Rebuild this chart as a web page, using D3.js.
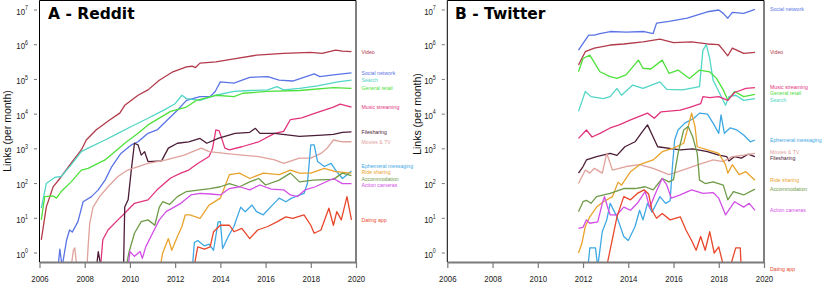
<!DOCTYPE html>
<html>
<head>
<meta charset="utf-8">
<script src="https://cdn.jsdelivr.net/npm/d3@7/dist/d3.min.js"></script>
<style>
  body { margin: 0; background: #fff; }
  svg { display: block; }
</style>
</head>
<body>
<div id="container"></div>
<script>
// tick values
var yearTicks = [2006, 2008, 2010, 2012, 2014, 2016, 2018, 2020];
var powerTicks = [0, 1, 2, 3, 4, 5, 6, 7];

var categories = ['Video', 'Social network', 'Search', 'General retail', 'Music streaming',
    'Filesharing', 'Movies & TV', 'Ephemeral messaging', 'Ride sharing',
    'Accommodation', 'Action cameras', 'Dating app'];

// ---- Reddit: [year, links per month] ----
var redditVideo = [[2006.08, 2.4], [2006.3, 21], [2006.6, 80], [2006.9, 140], [2007.4, 390], [2007.85, 930],
    [2008.07, 1800], [2008.5, 3500], [2009.1, 6800], [2009.55, 1.07e4], [2009.77, 1.8e4], [2010.36, 3.5e4],
    [2010.8, 5e4], [2011.3, 9.5e4], [2011.9, 1.66e5], [2012.5, 2.3e5], [2012.75, 2.4e5], [2012.9, 2.2e5],
    [2013.1, 2.95e5], [2013.8, 3.2e5], [2014.6, 3.9e5], [2015.6, 5e5], [2016.8, 5.6e5], [2018.0, 6e5],
    [2018.5, 5.6e5], [2019.1, 7e5], [2019.4, 6.5e5], [2019.8, 6.3e5]];
var redditSocial = [[2006.8, 0.3], [2006.9, 1.3], [2007.0, 0.4], [2007.2, 2.4], [2007.33, 4.6], [2007.45, 4],
    [2007.7, 8], [2007.93, 30], [2008.3, 42], [2008.6, 66], [2008.9, 126], [2009.2, 310], [2009.6, 740],
    [2010.06, 1300], [2010.36, 1600], [2010.8, 2800], [2011.2, 3500], [2012.1, 1.3e4], [2012.5, 2.5e4],
    [2013.1, 3.2e4], [2013.55, 3.2e4], [2013.77, 4.5e4], [2014.0, 8.5e4], [2014.6, 7.8e4], [2015.3, 1.15e5],
    [2016.1, 1.2e5], [2016.6, 9.5e4], [2017.2, 9e4], [2018.15, 1.45e5], [2018.4, 1.2e5], [2019.0, 1.35e5],
    [2019.8, 1.55e5]];
var redditSearch = [[2006.08, 19.5], [2006.3, 100], [2006.67, 150], [2006.96, 160], [2007.4, 345], [2007.85, 830],
    [2008.15, 1050], [2008.9, 1800], [2009.47, 2800], [2010.06, 4400], [2010.8, 7600], [2011.5, 1.3e4],
    [2012.0, 2e4], [2012.3, 3.5e4], [2012.5, 2.8e4], [2013.1, 2.5e4], [2013.8, 3.5e4], [2014.6, 4.5e4],
    [2015.3, 4.8e4], [2016.1, 5e4], [2016.5, 6.2e4], [2016.8, 5e4], [2017.5, 5.5e4], [2018.3, 6.5e4],
    [2019.2, 8.5e4], [2019.8, 9.5e4]];
var redditRetail = [[2006.08, 9], [2006.23, 42], [2006.6, 44], [2006.75, 38], [2006.96, 59], [2007.4, 112],
    [2007.85, 245], [2008.15, 275], [2008.9, 480], [2009.33, 830], [2009.77, 1450], [2010.36, 2800],
    [2010.8, 4900], [2011.8, 1.2e4], [2012.5, 1.6e4], [2012.95, 2.5e4], [2013.8, 3.5e4], [2014.6, 3.2e4],
    [2015.0, 4e4], [2016.1, 4.5e4], [2017.5, 4.8e4], [2019.0, 5.8e4], [2019.8, 5.5e4]];
var redditMusic = [[2008.7, 0.4], [2008.8, 2.4], [2009.03, 4.6], [2009.47, 9], [2009.77, 14], [2010.2, 27],
    [2010.8, 34], [2011.2, 66], [2011.8, 145], [2012.25, 200], [2012.6, 245], [2013.0, 380], [2013.5, 600],
    [2013.65, 1000], [2013.8, 3500], [2013.95, 3300], [2014.2, 1050], [2014.4, 930], [2014.95, 1150],
    [2015.7, 1600], [2016.4, 2800], [2016.8, 3200], [2017.1, 7000], [2017.6, 7800], [2018.2, 1.07e4],
    [2019.0, 1.6e4], [2019.3, 1.95e4], [2019.8, 1.6e4]];
var redditFiles = [[2008.5, 0.3], [2008.6, 1.1], [2008.75, 0.3], [2009.7, 0.1], [2009.77, 21], [2009.92, 34],
    [2010.06, 245], [2010.2, 1450], [2010.36, 1300], [2010.5, 660], [2010.65, 830], [2010.8, 430],
    [2011.4, 450], [2011.7, 1050], [2012.1, 1450], [2012.6, 1600], [2013.1, 2000], [2013.4, 1450],
    [2013.9, 2000], [2014.65, 2800], [2015.3, 3000], [2015.55, 3900], [2015.75, 2800], [2016.4, 2800],
    [2017.5, 2300], [2018.5, 2500], [2019.0, 2600], [2019.4, 3000], [2019.8, 3100]];
var redditMovies = [[2007.4, 0.4], [2007.5, 1.2], [2007.56, 1.4], [2007.65, 0.4], [2008.1, 0.4], [2008.15, 1.5],
    [2008.22, 7], [2008.37, 21], [2008.66, 42], [2009.03, 81], [2009.47, 160], [2009.9, 245], [2010.36, 310],
    [2010.8, 380], [2011.6, 480], [2012.4, 660], [2013.15, 1050], [2013.5, 830], [2014.2, 740], [2014.95, 660],
    [2015.7, 600], [2016.4, 480], [2016.8, 380], [2017.5, 540], [2018.0, 540], [2018.45, 740], [2018.7, 1000],
    [2019.0, 1800], [2019.4, 1600], [2019.8, 1600]];
var redditEphemeral = [[2012.75, 0.3], [2012.85, 2], [2013.0, 2.3], [2013.3, 1.6], [2013.5, 1.8], [2013.7, 1.2],
    [2013.9, 7.9], [2014.0, 8], [2014.1, 1.35], [2014.35, 3], [2014.6, 5.8], [2014.9, 21], [2015.1, 15.5],
    [2015.4, 24], [2015.6, 15.5], [2015.9, 12.6], [2016.3, 24], [2016.6, 38], [2016.9, 30], [2017.15, 38],
    [2017.7, 52], [2017.85, 100], [2018.0, 1300], [2018.15, 1300], [2018.3, 430], [2018.6, 310],
    [2018.9, 380], [2019.1, 245], [2019.4, 140], [2019.8, 230]];
var redditRide = [[2011.3, 0.3], [2011.45, 1], [2011.7, 2.6], [2011.85, 1.2], [2012.1, 3], [2012.3, 5.8],
    [2012.45, 12.6], [2012.65, 12.6], [2013.1, 10], [2013.5, 24], [2014.0, 38], [2014.4, 180], [2014.85, 200],
    [2015.3, 140], [2015.9, 200], [2016.6, 180], [2017.1, 245], [2017.5, 200], [2018.0, 200], [2018.6, 275],
    [2019.1, 220], [2019.8, 200]];
var redditAccommodation = [[2009.8, 0.3], [2009.95, 1], [2010.2, 3.7], [2010.5, 8], [2010.8, 9], [2011.1, 6.3],
    [2011.3, 21], [2011.45, 30], [2011.75, 25], [2012.1, 42], [2012.5, 59], [2013.1, 66], [2013.55, 72],
    [2014.0, 81], [2014.4, 100], [2014.85, 81], [2015.3, 112], [2015.7, 140], [2016.0, 91], [2016.6, 126],
    [2017.1, 200], [2017.5, 112], [2018.1, 126], [2019.0, 132], [2019.4, 200], [2019.8, 170]];
var redditCameras = [[2009.9, 0.3], [2010.0, 1.1], [2010.2, 0.8], [2010.45, 1.1], [2010.55, 0.7], [2010.7, 1.5],
    [2011.0, 3.7], [2011.3, 9], [2011.6, 15.5], [2012.25, 27], [2012.7, 47], [2013.1, 52], [2013.55, 50],
    [2014.0, 47], [2014.4, 72], [2014.85, 81], [2015.3, 66], [2015.75, 91], [2016.25, 69], [2016.8, 66],
    [2017.1, 47], [2017.4, 42], [2017.75, 66], [2018.2, 81], [2019.0, 140], [2019.4, 100], [2019.8, 100]];
var redditDating = [[2012.8, 0.3], [2013.0, 1.5], [2013.3, 1.3], [2013.55, 1.5], [2013.7, 4.1], [2014.0, 6.3],
    [2014.4, 6.3], [2014.6, 4.1], [2014.95, 5.1], [2015.3, 2.6], [2015.65, 4.6], [2016.1, 5.8], [2016.5, 7.9],
    [2016.9, 11], [2017.2, 10], [2017.7, 12.6], [2018.0, 6.3], [2018.15, 3.7], [2018.45, 4.6], [2018.8, 19.5],
    [2019.0, 6.3], [2019.15, 15.5], [2019.35, 9], [2019.6, 42], [2019.8, 9]];

// ---- Twitter: [year, links per month] ----
var twitterSocial = [[2011.8, 7e5], [2012.0, 1.1e6], [2012.25, 1.9e6], [2012.5, 1.9e6], [2012.75, 2.1e6],
    [2013.2, 2.4e6], [2013.9, 2.3e6], [2014.7, 2.4e6], [2015.1, 2.1e6], [2015.25, 4.2e6], [2015.8, 4.7e6],
    [2016.6, 5.8e6], [2017.5, 8.9e6], [2018.0, 1e7], [2018.2, 8e6], [2018.4, 5.8e6], [2018.6, 8.5e6],
    [2019.1, 8e6], [2019.6, 1.05e7]];
var twitterVideo = [[2011.8, 2.6e5], [2012.1, 6.3e5], [2012.5, 8e5], [2013.2, 9.8e5], [2013.8, 1.05e6],
    [2014.65, 1.2e6], [2015.4, 1.45e6], [2016.0, 1.15e6], [2016.8, 1.2e6], [2017.5, 1.05e6], [2018.0, 1e6],
    [2018.2, 7e5], [2018.4, 4.8e5], [2018.6, 8e5], [2019.1, 5.6e5], [2019.6, 6e5]];
var twitterRetail = [[2011.8, 1.66e5], [2012.0, 4e5], [2012.3, 5e5], [2012.75, 1.66e5], [2013.2, 1.2e5],
    [2013.5, 1.07e5], [2013.9, 1.35e5], [2014.45, 3.6e5], [2014.65, 2.1e5], [2015.0, 2e5], [2015.5, 3.6e5],
    [2015.8, 1.5e5], [2016.2, 1.86e5], [2016.7, 1.07e5], [2017.15, 1.86e5], [2017.6, 1.66e5], [2017.9, 1.07e5],
    [2018.2, 5e4], [2018.4, 2.5e4], [2018.7, 4.5e4], [2019.1, 3.2e4], [2019.6, 3.7e4]];
var twitterSearch = [[2011.8, 1.2e4], [2012.1, 4.5e4], [2012.35, 3.2e4], [2012.9, 2.8e4], [2013.2, 3.2e4],
    [2013.5, 5.5e4], [2013.7, 3.5e4], [2014.2, 6.9e4], [2014.65, 5.5e4], [2015.4, 8.5e4], [2015.7, 5.2e4],
    [2016.4, 5e4], [2017.15, 6.2e4], [2017.3, 7e5], [2017.45, 1e6], [2017.6, 4e5], [2017.75, 9.5e4],
    [2018.0, 4.5e4], [2018.3, 1.8e4], [2018.45, 3.2e4], [2018.75, 3.5e4], [2019.1, 2.5e4], [2019.6, 2.8e4]];
var twitterMusic = [[2011.8, 2000], [2012.15, 3500], [2012.4, 2200], [2012.75, 2800], [2013.2, 4000],
    [2013.6, 4900], [2014.1, 6800], [2014.85, 1.07e4], [2015.15, 7600], [2015.45, 1.17e4], [2016.3, 1.3e4],
    [2016.75, 1.6e4], [2017.2, 2e4], [2017.3, 3.2e4], [2017.6, 3e4], [2018.0, 3.2e4], [2018.4, 2.5e4],
    [2018.7, 4.2e4], [2019.2, 5.5e4], [2019.6, 5.8e4]];
var twitterFiles = [[2011.8, 200], [2012.0, 310], [2012.15, 480], [2012.6, 600], [2013.2, 740], [2013.5, 650],
    [2013.85, 1150], [2014.3, 1600], [2014.6, 3000], [2014.85, 4900], [2015.1, 2200], [2015.3, 1150],
    [2016.3, 930], [2016.85, 1000], [2017.5, 830], [2018.0, 660], [2018.35, 600], [2018.45, 450],
    [2018.7, 600], [2019.0, 540], [2019.3, 700], [2019.6, 600]];
var twitterMovies = [[2011.8, 100], [2012.1, 245], [2012.3, 200], [2012.5, 275], [2012.85, 200], [2013.05, 740],
    [2013.3, 245], [2013.9, 310], [2014.5, 350], [2015.1, 275], [2015.8, 180], [2016.4, 245], [2017.1, 350],
    [2017.75, 480], [2018.2, 430], [2018.6, 600], [2019.1, 660], [2019.6, 740]];
var twitterEphemeral = [[2012.2, 0.3], [2012.3, 1.4], [2012.55, 1.4], [2012.65, 0.4], [2012.85, 4.1],
    [2013.05, 9], [2013.2, 27], [2013.5, 11], [2013.8, 3], [2014.0, 2.3], [2014.3, 5.8], [2014.5, 17],
    [2014.65, 9], [2014.85, 27], [2015.05, 15], [2015.4, 42], [2015.65, 27], [2015.85, 32], [2015.95, 300],
    [2016.05, 1800], [2016.2, 3500], [2016.5, 5500], [2016.9, 7600], [2017.15, 1.07e4], [2017.5, 1e4],
    [2017.75, 5500], [2018.0, 2800], [2018.1, 9500], [2018.25, 2800], [2018.5, 4000], [2018.8, 3500],
    [2019.1, 2500], [2019.4, 1600], [2019.6, 1800]];
var twitterRide = [[2011.8, 1], [2011.95, 1.9], [2012.1, 5.8], [2012.3, 11], [2012.6, 21], [2012.9, 30],
    [2013.3, 42], [2013.55, 110], [2013.7, 90], [2014.1, 220], [2014.5, 350], [2015.1, 480], [2015.5, 830],
    [2016.0, 1050], [2016.45, 1450], [2016.65, 4400], [2016.8, 1.07e4], [2016.95, 4400], [2017.05, 1150],
    [2017.5, 930], [2018.0, 740], [2018.3, 350], [2018.4, 200], [2018.6, 350], [2018.9, 180], [2019.2, 220],
    [2019.6, 125]];
var twitterAccommodation = [[2011.8, 15.5], [2012.0, 30], [2012.15, 33], [2012.35, 27], [2012.6, 42], [2013.2, 52],
    [2013.8, 72], [2014.3, 72], [2014.75, 81], [2015.1, 66], [2015.5, 140], [2015.8, 112], [2016.0, 130],
    [2016.2, 740], [2016.45, 3500], [2016.65, 4400], [2016.85, 2200], [2017.05, 740], [2017.15, 126],
    [2017.4, 100], [2017.75, 112], [2018.2, 90], [2018.4, 34], [2018.65, 59], [2019.1, 47], [2019.6, 69]];
var twitterCameras = [[2011.8, 5.1], [2012.0, 5.5], [2012.15, 9], [2012.3, 7.2], [2012.65, 7.9], [2012.85, 27],
    [2012.95, 42], [2013.1, 19.5], [2013.2, 12.6], [2013.5, 12.6], [2013.8, 21], [2014.1, 17], [2014.4, 27],
    [2014.75, 60], [2014.95, 20], [2015.2, 52], [2015.5, 140], [2015.7, 91], [2015.9, 38], [2016.3, 47],
    [2016.8, 66], [2017.3, 52], [2017.75, 55], [2018.0, 38], [2018.3, 12.6], [2018.7, 30], [2019.1, 21],
    [2019.35, 27], [2019.6, 17]];
var twitterDating = [[2012.95, 0.3], [2013.1, 0.6], [2013.5, 11], [2013.8, 42], [2014.1, 34], [2014.4, 52],
    [2014.7, 66], [2014.9, 50], [2015.05, 17], [2015.25, 10], [2015.5, 13.8], [2015.85, 9], [2016.3, 11],
    [2016.55, 4.6], [2016.8, 2.3], [2017.0, 1.2], [2017.2, 3], [2017.4, 1.2], [2017.6, 4.1], [2017.8, 1],
    [2018.0, 1.5], [2018.15, 0.6], [2018.3, 0.3], [2018.55, 0.5], [2018.75, 1.4], [2018.95, 1.4],
    [2019.0, 0.3], [2019.6, 0.35]];

var reddit = [redditVideo, redditSocial, redditSearch, redditRetail, redditMusic, redditFiles, redditMovies,
    redditEphemeral, redditRide, redditAccommodation, redditCameras, redditDating];
var twitter = [twitterVideo, twitterSocial, twitterSearch, twitterRetail, twitterMusic, twitterFiles, twitterMovies,
    twitterEphemeral, twitterRide, twitterAccommodation, twitterCameras, twitterDating];

var colors = ['#b23a4a', '#5a74e6', '#52d6c6', '#4ee03b', '#e2347d', '#4b1d36', '#e0a29c',
    '#3ea8e4', '#e9a32d', '#6f9a47', '#d24fe6', '#e8472b'];

var width = 822, height = 283;
var plotTop = 0.5, plotBottom = 262;
var numFont = '"Liberation Sans", Arial, sans-serif';
var squeeze = 0.8;   // tick labels are drawn horizontally narrow

var svg = d3.select('#container')
    .append('svg')
    .attr('width', width)
    .attr('height', height);

var y = d3.scaleLog()
    .domain([1, 1e7])
    .range([253, 10]);

var panels = [
    {id: 'reddit', title: 'A - Reddit', data: reddit, left: 39.5, right: 356, labelX: 361.5,
        titleX: 48, yTitleX: 10.5, yTitleY: 131},
    {id: 'twitter', title: 'B - Twitter', data: twitter, left: 447.3, right: 764, labelX: 770,
        titleX: 455, yTitleX: 421, yTitleY: 114}
];

function dodge(items, gap) {
    items.sort(function(a, b) { return a.y - b.y; });
    var groups = items.map(function(d) { return {members: [d], start: d.y}; });
    var merged = true;
    while (merged) {
        merged = false;
        for (var i = 0; i < groups.length - 1; i++) {
            var a = groups[i], b = groups[i + 1];
            var aEnd = a.start + (a.members.length - 1) * gap;
            if (b.start - aEnd < gap) {
                var m = a.members.concat(b.members);
                var mean = d3.mean(m, function(d) { return d.y; });
                groups.splice(i, 2, {members: m, start: mean - (m.length - 1) * gap / 2});
                merged = true;
                break;
            }
        }
    }
    groups.forEach(function(g) {
        g.members.forEach(function(d, k) { d.ly = g.start + k * gap; });
    });
}

panels.forEach(function(p) {
    var x = d3.scaleLinear()
        .domain([2006, 2020])
        .range([p.left, p.right]);

    var g = svg.append('g');

    g.append('clipPath')
        .attr('id', 'clip-' + p.id)
        .append('rect')
        .attr('x', p.left)
        .attr('y', plotTop)
        .attr('width', p.right - p.left)
        .attr('height', plotBottom - plotTop);

    var line = d3.line()
        .x(function(d) { return x(d[0]); })
        .y(function(d) { return y(d[1]); });

    g.append('g')
        .attr('clip-path', 'url(#clip-' + p.id + ')')
        .selectAll('path')
        .data(p.data)
        .enter()
        .append('path')
        .attr('d', line)
        .attr('fill', 'none')
        .attr('stroke', function(d, i) { return colors[i]; })
        .attr('stroke-width', 1.3)
        .attr('stroke-linejoin', 'round');

    // box: left, top, right in black
    g.append('path')
        .attr('d', 'M' + p.left + ',' + plotBottom + 'V' + plotTop + 'H' + p.right + 'V' + plotBottom)
        .attr('fill', 'none')
        .attr('stroke', '#000')
        .attr('stroke-width', 1);

    // x axis
    var xAxis = d3.axisBottom(x)
        .tickValues(yearTicks)
        .tickFormat(d3.format('d'))
        .tickSize(6)
        .tickSizeOuter(0)
        .tickPadding(7);
    var xg = g.append('g')
        .attr('transform', 'translate(0,' + plotBottom + ')')
        .call(xAxis);
    xg.select('.domain').attr('stroke', '#7a7a7a').attr('stroke-width', 2);
    xg.selectAll('.tick line').attr('stroke', '#7a7a7a').attr('stroke-width', 1.2);
    xg.selectAll('.tick text')
        .attr('fill', '#222')
        .attr('transform', 'scale(' + squeeze + ',1)')
        .style('font-family', numFont)
        .style('font-size', '9.8px');

    // y axis labels 10^n with small ticks
    var yl = g.append('g');
    powerTicks.forEach(function(n) {
        var ty = y(Math.pow(10, n));
        var t = yl.append('text')
            .attr('transform', 'translate(' + (p.left - 11.5) + ',' + (ty + 4.5) + ') scale(' + squeeze + ',1)')
            .attr('text-anchor', 'end')
            .attr('fill', '#222')
            .style('font-family', numFont)
            .style('font-size', '9.8px')
            .text('10');
        t.append('tspan')
            .attr('dy', -4.2)
            .style('font-size', '6.6px')
            .text(n);
        yl.append('line')
            .attr('x1', p.left - 5.5)
            .attr('x2', p.left - 2.5)
            .attr('y1', ty)
            .attr('y2', ty)
            .attr('stroke', '#777')
            .attr('stroke-width', 1);
    });

    g.append('text')
        .attr('transform', 'translate(' + p.yTitleX + ',' + p.yTitleY + ') rotate(-90)')
        .attr('text-anchor', 'middle')
        .attr('fill', '#111')
        .style('font-family', '"Liberation Sans", Arial, sans-serif')
        .style('font-size', '10.5px')
        .text('Links (per month)');

    g.append('text')
        .attr('x', p.titleX)
        .attr('y', 18.5)
        .attr('fill', '#000')
        .style('font-family', '"DejaVu Sans", sans-serif')
        .style('font-weight', 'bold')
        .style('font-size', '15.5px')
        .text(p.title);

    // end labels
    var items = p.data.map(function(s, i) {
        return {name: categories[i], color: colors[i], y: y(s[s.length - 1][1])};
    });
    dodge(items, 6.5);
    g.selectAll('text.lbl')
        .data(items)
        .enter()
        .append('text')
        .attr('class', 'lbl')
        .attr('x', p.labelX)
        .attr('y', function(d) { return d.ly; })
        .attr('dy', '0.35em')
        .attr('fill', function(d) { return d.color; })
        .style('font-family', '"Liberation Sans", Arial, sans-serif')
        .style('font-size', '5.2px')
        .text(function(d) { return d.name; });
});
</script>
</body>
</html>
